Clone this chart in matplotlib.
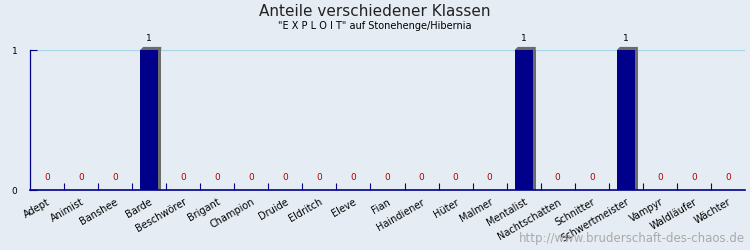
import matplotlib
matplotlib.use("Agg")
import matplotlib.pyplot as plt
import numpy as np

klassen = ["Adept", "Animist", "Banshee", "Barde", "Beschwörer", "Brigant",
           "Champion", "Druide", "Eldritch", "Eleve", "Fian", "Haindiener",
           "Hüter", "Malmer", "Mentalist", "Nachtschatten", "Schnitter",
           "Schwertmeister", "Vampyr", "Waldläufer", "Wächter"]
anteile = [0, 0, 0, 1, 0, 0, 0, 0, 0, 0, 0, 0, 0, 0, 1, 0, 0, 1, 0, 0, 0]

BG = "#e5ecf3"
AX_C = "#00008b"
SH = "#6b6b6b"

fig = plt.figure(figsize=(7.5, 2.5), dpi=100, facecolor=BG)
ax = fig.add_axes([0.04, 0.24, 0.9533, 0.56], facecolor=BG)

x = np.arange(len(klassen))
w = 0.53
dx, dy = 0.09, 0.022
# shadow side + top, then bars
ax.bar(x + dx, anteile, width=w, color=SH, zorder=2)
for xi, v in zip(x, anteile):
    if v > 0:
        ax.fill([xi - w / 2, xi - w / 2 + dx, xi + w / 2 + dx, xi + w / 2 + dx],
                [v, v + dy, v + dy, v], color=SH, zorder=2, lw=0,
                clip_on=False)
ax.bar(x, anteile, width=w, color="#00008b", zorder=3)

for xi, v in zip(x, anteile):
    if v > 0:
        ax.text(xi, v + 0.05, str(v), ha="center", va="bottom", fontsize=6.5,
                color="black")
    else:
        ax.text(xi, 0.055, str(v), ha="center", va="bottom", fontsize=6.5,
                color="#b00000")

ax.set_xlim(-0.5, len(klassen) - 0.5)
ax.set_ylim(0, 1)
ax.axhline(1, color="#a8d8e8", lw=0.9, zorder=1)

for s in ["top", "right"]:
    ax.spines[s].set_visible(False)
ax.spines["left"].set_color(AX_C)
ax.spines["bottom"].set_color(AX_C)
ax.spines["left"].set_linewidth(0.9)
ax.spines["bottom"].set_linewidth(1.2)

ax.set_yticks([0, 1])
ax.set_yticklabels(["0", "1"], fontsize=6.5)
ax.tick_params(axis="y", direction="in", length=5, color=AX_C, pad=9)

ax.set_xticks(np.arange(len(klassen) - 1) + 0.5, minor=False)
ax.set_xticklabels([])
ax.tick_params(axis="x", which="major", direction="in", length=5, color=AX_C)
ax.set_xticks(x, minor=True)
ax.set_xticklabels(klassen, minor=True, rotation=30, ha="right",
                   fontsize=7, rotation_mode="anchor")
ax.tick_params(axis="x", which="minor", length=0, pad=5)

fig.text(0.5, 0.955, "Anteile verschiedener Klassen", ha="center",
         va="center", fontsize=11, color="#222222")
fig.text(0.5, 0.895, "\"E X P L O I T\" auf Stonehenge/Hibernia",
         ha="center", va="center", fontsize=7, color="black")
fig.text(0.993, 0.045, "http://www.bruderschaft-des-chaos.de", ha="right",
         va="center", fontsize=8.5, color="#aaaaaa")

fig.savefig("out.png", dpi=100, facecolor=BG)
